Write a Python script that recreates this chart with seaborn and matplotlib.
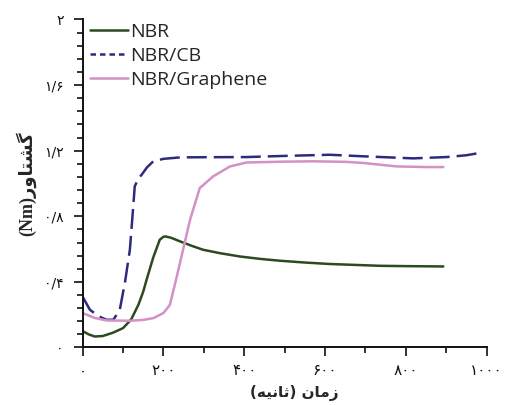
import numpy as np
import pandas as pd
import matplotlib
matplotlib.use("Agg")
import matplotlib.pyplot as plt
from matplotlib.lines import Line2D
from matplotlib.ticker import MultipleLocator
import seaborn as sns

# data
nbr_x = [0, 15, 30, 50, 75, 100, 120, 138, 150, 158, 175, 191, 200, 206, 220, 241, 270, 298, 340, 389, 440, 488, 550, 612, 680, 736, 800, 893]
nbr_y = [0.10, 0.08, 0.067, 0.07, 0.09, 0.118, 0.17, 0.26, 0.34, 0.41, 0.55, 0.657, 0.675, 0.677, 0.668, 0.647, 0.62, 0.596, 0.575, 0.555, 0.54, 0.529, 0.518, 0.509, 0.503, 0.498, 0.496, 0.494]

cb_x = [0, 18, 40, 59, 76, 92, 105, 117, 125, 129, 138, 146, 160, 175, 200, 241, 300, 406, 500, 612, 700, 818, 901, 950, 983]
cb_y = [0.31, 0.23, 0.19, 0.169, 0.169, 0.23, 0.40, 0.596, 0.85, 0.982, 1.03, 1.053, 1.10, 1.135, 1.150, 1.159, 1.160, 1.161, 1.168, 1.175, 1.165, 1.153, 1.161, 1.172, 1.186]

gr_x = [0, 30, 59, 117, 150, 175, 200, 216, 228, 241, 266, 290, 323, 365, 406, 500, 571, 650, 695, 777, 850, 893]
gr_y = [0.21, 0.18, 0.165, 0.163, 0.168, 0.179, 0.21, 0.26, 0.38, 0.515, 0.779, 0.972, 1.043, 1.104, 1.128, 1.133, 1.135, 1.132, 1.125, 1.104, 1.100, 1.100]

series_names = ["NBR", "NBR/CB", "NBR/Graphene"]
colors = ["#2c4a1f", "#2e2b7c", "#d391c4"]

x_ticks = [0, 200, 400, 600, 800, 1000]
x_labels = ["۰", "۲۰۰", "۴۰۰", "۶۰۰", "۸۰۰", "۱۰۰۰"]
y_ticks = [0, 0.4, 0.8, 1.2, 1.6, 2.0]
y_labels = ["۰", "۰/۴", "۰/۸", "۱/۲", "۱/۶", "۲"]

# Persian labels in visual order with presentation forms (matplotlib does no shaping)
x_title = "(\uFEEA\uFBFF\uFEE7\uFE8E\uFE9B) \uFEE5\uFE8E\uFEE3\uFEAF"   # زمان (ثانیه)
y_title = "(Nm)\uFEAD\uFEED\uFE8E\uFE98\uFEB8\uFB94"                   # گشتاور (Nm)

sns.set_style("ticks")
plt.rcParams["font.family"] = ["DejaVu Sans"]

fig = plt.figure(figsize=(5.1, 4.05), dpi=100)
ax = fig.add_axes([0.162, 0.142, 0.792, 0.810])

sns.lineplot(x=nbr_x, y=nbr_y, ax=ax, color=colors[0], linewidth=1.8)
sns.lineplot(x=cb_x, y=cb_y, ax=ax, color=colors[1], linewidth=1.8)
ax.lines[-1].set_dashes([8, 2.8])
sns.lineplot(x=gr_x, y=gr_y, ax=ax, color=colors[2], linewidth=1.8)

ax.set_xlim(0, 1000)
ax.set_ylim(0, 2)
ax.set_xticks(x_ticks)
ax.set_xticklabels(x_labels, fontsize=11)
ax.set_yticks(y_ticks)
ax.set_yticklabels(y_labels, fontsize=10)
ax.xaxis.set_minor_locator(MultipleLocator(100))
ax.yaxis.set_minor_locator(MultipleLocator(0.08))
ax.tick_params(which="major", length=6.5, width=1.2, direction="out", colors="#111111")
ax.tick_params(which="minor", length=4, width=1.2, direction="out", color="#111111")
ax.tick_params(axis="x", which="major", pad=5)
ax.tick_params(axis="y", which="major", pad=7)
for s in ["top", "right"]:
    ax.spines[s].set_visible(False)
for s in ["left", "bottom"]:
    ax.spines[s].set_linewidth(1.4)
    ax.spines[s].set_color("#111111")

ax.set_xlabel(x_title, fontsize=11, fontweight="bold", family=["DejaVu Sans"])
ax.xaxis.set_label_coords(0.525, -0.113)
ax.set_ylabel(y_title, fontsize=13, fontweight="bold", labelpad=6, family=["Liberation Serif", "DejaVu Sans"])

handles = [
    Line2D([], [], color=colors[0], lw=1.8),
    Line2D([], [], color=colors[1], lw=1.8, dashes=[2.2, 1.6]),
    Line2D([], [], color=colors[2], lw=1.8),
]
ax.legend(handles, series_names, loc="upper left", bbox_to_anchor=(-0.01, 1.025), frameon=False,
          handlelength=1.95, handletextpad=0.1, labelspacing=0.3,
          borderaxespad=0.2, prop={"family": "Open Sans", "size": 14})

fig.savefig("out.png", dpi=100)
